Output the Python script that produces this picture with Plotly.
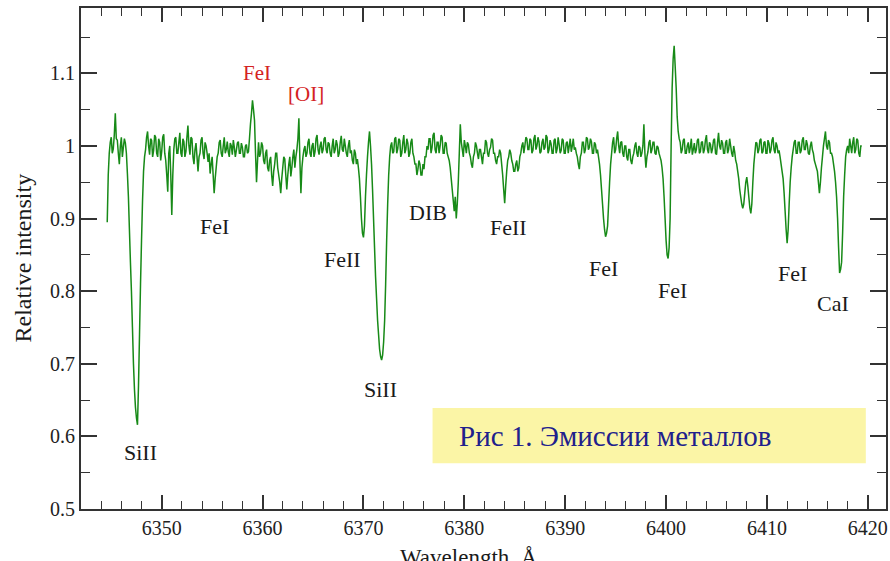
import numpy as np
import plotly.graph_objects as go

# ---- data ----
wl_start = 6344.6
wl_step = 0.1
intensity = [
    0.895, 0.96, 0.99, 1.005, 1.012, 0.99, 0.996, 1.015, 1.045, 1.01,
    1.008, 0.99, 0.975, 1.0, 1.012, 0.985, 0.998, 1.01, 1.004, 0.99,
    0.962, 0.93, 0.885, 0.84, 0.80, 0.75, 0.70, 0.665, 0.64, 0.625,
    0.616, 0.67, 0.74, 0.81, 0.87, 0.925, 0.965, 0.985, 0.995, 1.012,
    1.02, 1.0, 0.988, 1.01, 1.008, 0.985, 0.994, 1.015, 1.012, 0.99,
    0.985, 1.01, 1.005, 0.98, 0.992, 1.012, 1.016, 0.99, 0.98, 0.96,
    0.937, 0.99, 1.0, 0.96, 0.905, 0.96, 0.995, 1.01, 1.012, 0.99,
    0.99, 1.005, 1.018, 0.99, 0.985, 1.01, 1.006, 0.985, 0.992, 1.012,
    1.028, 1.0, 0.988, 1.012, 1.01, 0.985, 0.975, 0.995, 1.004, 0.985,
    0.965, 0.985, 0.99, 1.008, 1.012, 0.99, 0.982, 1.005, 1.0, 0.99,
    0.978, 0.99, 0.962, 0.975, 0.985, 0.96, 0.935, 0.955, 0.97, 0.985,
    0.99, 1.005, 1.008, 0.99, 0.985, 1.0, 1.012, 0.99, 0.995, 1.006,
    0.992, 0.985, 1.004, 1.0, 0.988, 1.008, 0.998, 0.985, 0.994, 1.004,
    1.006, 0.99, 0.99, 1.004, 0.998, 0.985, 0.985, 1.0, 1.002, 0.99,
    0.992, 1.01, 1.03, 1.045, 1.063, 1.05, 1.035, 0.99, 0.95, 0.98,
    1.005, 0.985, 0.99, 1.005, 1.0, 0.98, 0.975, 0.99, 0.995, 0.97,
    0.965, 0.98, 0.985, 0.96, 0.945, 0.965, 0.975, 0.99, 0.99, 0.97,
    0.96, 0.95, 0.935, 0.955, 0.97, 0.985, 0.982, 0.96, 0.94, 0.96,
    0.975, 0.985, 0.958, 0.97, 0.985, 0.995, 0.97, 0.985, 0.995, 1.01,
    1.038, 0.98, 0.935, 0.97, 0.985, 0.995, 1.0, 0.985, 0.99, 1.005,
    1.01, 0.99, 0.985, 1.0, 1.004, 0.985, 0.992, 1.01, 1.015, 0.995,
    0.988, 1.0, 1.006, 0.99, 0.995, 1.01, 1.012, 0.995, 0.99, 1.005,
    1.003, 0.99, 0.985, 1.0, 1.01, 0.99, 0.995, 1.008, 1.002, 0.985,
    0.99, 1.005, 1.014, 0.995, 0.992, 1.01, 1.0, 0.99, 0.985, 1.0,
    1.008, 0.99, 0.994, 0.98, 0.975, 0.995, 0.99, 0.975, 0.982, 0.97,
    0.955, 0.93, 0.90, 0.88, 0.874, 0.89, 0.93, 0.96, 0.985, 1.005,
    1.02, 1.0, 0.975, 0.94, 0.90, 0.86, 0.82, 0.79, 0.76, 0.74,
    0.72, 0.71, 0.705, 0.712, 0.73, 0.76, 0.81, 0.87, 0.92, 0.96,
    0.985, 1.0, 1.005, 0.99, 0.992, 1.01, 1.012, 0.99, 0.996, 1.01,
    1.008, 0.985, 0.99, 1.005, 1.015, 0.99, 0.995, 1.01, 1.004, 0.985,
    0.99, 1.005, 1.01, 0.99, 0.985, 0.975, 0.975, 0.96, 0.968, 0.98,
    0.975, 0.96, 0.96, 0.975, 0.968, 0.985, 0.985, 1.0, 0.995, 1.01,
    1.01, 0.99, 0.998, 1.015, 1.018, 0.995, 0.99, 1.005, 1.005, 0.99,
    1.0, 1.015, 1.012, 0.99, 0.99, 1.005, 1.004, 0.99, 0.985, 0.98,
    0.97, 0.955, 0.94, 0.925, 0.91, 0.93, 0.90, 0.92, 0.95, 0.99,
    1.03, 1.005, 0.995, 0.985, 1.008, 1.0, 0.99, 1.005, 1.002, 0.99,
    0.985, 0.975, 0.97, 0.985, 0.99, 1.005, 1.0, 0.99, 0.982, 0.995,
    0.995, 0.985, 0.975, 0.99, 0.99, 1.008, 1.005, 0.99, 0.985, 0.995,
    0.998, 1.01, 1.008, 0.99, 0.99, 0.98, 0.975, 0.985, 0.985, 0.995,
    0.99, 0.975, 0.96, 0.94, 0.921, 0.945, 0.965, 0.98, 0.985, 0.995,
    0.99, 0.98, 0.975, 0.965, 0.965, 0.975, 0.98, 0.965, 0.97, 0.985,
    0.99, 1.0, 1.005, 0.99, 1.0, 1.012, 1.01, 0.995, 0.995, 1.01,
    1.008, 0.99, 0.994, 1.01, 1.015, 0.995, 1.0, 1.012, 1.006, 0.99,
    0.992, 1.005, 1.01, 0.995, 0.998, 1.015, 1.012, 0.99, 0.995, 1.008,
    1.003, 0.99, 0.99, 1.008, 1.01, 0.99, 0.996, 1.012, 1.002, 0.99,
    0.994, 1.01, 1.008, 0.99, 0.99, 1.004, 1.006, 0.99, 1.0, 1.01,
    0.992, 1.0, 1.01, 0.995, 0.998, 0.99, 0.985, 0.975, 0.968, 0.985,
    0.99, 1.005, 1.005, 0.99, 0.995, 1.012, 1.01, 0.995, 0.998, 1.01,
    1.006, 0.99, 0.99, 1.005, 1.002, 0.99, 0.995, 0.985, 0.975, 0.96,
    0.94, 0.92, 0.90, 0.885, 0.875, 0.88, 0.89, 0.92, 0.95, 0.975,
    0.99, 1.005, 1.012, 0.99, 0.995, 1.01, 1.02, 1.0, 0.99, 1.005,
    1.006, 0.99, 0.985, 1.0, 1.0, 0.985, 0.98, 0.995, 0.995, 0.98,
    0.975, 0.985, 0.99, 1.0, 1.005, 0.99, 0.985, 1.0, 0.998, 0.985,
    0.99, 1.0, 1.03, 0.99, 0.97, 0.985, 0.992, 1.005, 1.008, 0.99,
    0.995, 1.005, 1.005, 0.99, 0.988, 1.0, 0.998, 0.99, 0.985, 0.98,
    0.97, 0.955, 0.93, 0.90, 0.87, 0.85, 0.845, 0.86, 0.90, 1.0,
    1.08, 1.12, 1.138, 1.11, 1.08, 1.04, 1.02, 1.01, 1.005, 0.99,
    0.995, 1.008, 1.01, 0.99, 0.99, 1.0, 1.005, 0.99, 0.998, 1.01,
    0.988, 0.995, 1.004, 0.99, 0.995, 1.008, 1.01, 0.99, 0.992, 1.005,
    1.006, 0.99, 0.995, 1.008, 1.015, 0.995, 0.99, 1.005, 1.002, 0.99,
    0.996, 1.008, 1.01, 0.99, 0.988, 1.005, 1.018, 1.0, 0.995, 1.008,
    1.004, 0.99, 0.99, 1.005, 1.008, 0.99, 0.995, 1.01, 1.0, 0.99,
    0.985, 1.0, 0.992, 0.98, 0.975, 0.965, 0.955, 0.94, 0.93, 0.92,
    0.914, 0.92, 0.935, 0.95, 0.957, 0.945, 0.93, 0.915, 0.907, 0.92,
    0.95, 0.975, 0.99, 1.005, 1.004, 0.99, 0.995, 1.008, 1.01, 0.99,
    0.992, 1.005, 1.006, 0.99, 0.99, 1.008, 1.004, 0.99, 0.995, 1.008,
    1.012, 0.995, 0.99, 1.005, 1.0, 0.99, 0.994, 0.985, 0.975, 0.965,
    0.955, 0.935, 0.91, 0.885, 0.866, 0.885, 0.92, 0.95, 0.97, 0.985,
    0.995, 1.005, 1.008, 0.99, 0.99, 1.005, 1.005, 0.99, 0.994, 1.008,
    1.012, 0.995, 0.995, 1.008, 1.002, 0.99, 0.988, 1.0, 1.006, 0.995,
    0.99, 0.98, 0.975, 0.97, 0.965, 0.95, 0.935, 0.95, 0.97, 0.985,
    1.0, 1.01, 1.02, 1.0, 0.995, 1.008, 1.005, 0.99, 0.99, 0.985,
    0.975, 0.965, 0.95, 0.93, 0.90, 0.86, 0.825, 0.83, 0.84, 0.88,
    0.93, 0.96, 0.985, 0.995, 1.0, 0.99, 1.01, 1.0, 0.99, 1.005,
    1.012, 0.99, 0.995, 1.01, 1.008, 0.99, 0.985, 1.0, 1.0,
]
wavelength = wl_start + wl_step * np.arange(len(intensity))

line_labels = ["SiII", "FeI", "FeII", "SiII", "DIB", "FeII", "FeI", "FeI", "FeI", "CaI"]
line_label_x = [6347.85, 6355.27, 6367.94, 6371.7, 6376.36, 6384.38, 6393.78, 6400.61, 6412.5, 6416.55]
line_label_y = [0.578, 0.889, 0.844, 0.665, 0.909, 0.888, 0.831, 0.801, 0.824, 0.783]

emission_labels = ["FeI", "[OI]"]
emission_label_x = [6359.4, 6364.3]
emission_label_y = [1.101, 1.071]

caption = "Рис 1. Эмиссии металлов"
x_title = "Wavelength, Å"
y_title = "Relative intensity"

SERIF = "'Liberation Serif', 'Times New Roman', serif"

fig = go.Figure()
fig.add_trace(go.Scatter(x=wavelength, y=intensity, mode="lines",
                         line=dict(color="#178a17", width=1.5, simplify=False),
                         hoverinfo="skip", showlegend=False))

annotations = []
for t, x, y in zip(line_labels, line_label_x, line_label_y):
    annotations.append(dict(x=x, y=y, xref="x", yref="y", text=t, showarrow=False,
                            font=dict(family=SERIF, size=22, color="#1a1a1a")))
for t, x, y in zip(emission_labels, emission_label_x, emission_label_y):
    annotations.append(dict(x=x, y=y, xref="x", yref="y", text=t, showarrow=False,
                            font=dict(family=SERIF, size=21, color="#d42222")))
# caption box text
annotations.append(dict(x=6379.3, y=0.601, xref="x", yref="y", text=caption, showarrow=False,
                        xanchor="left", yanchor="middle",
                        font=dict(family=SERIF, size=29, color="#20208c")))
# axis titles
annotations.append(dict(x=0, y=0.5, xref="paper", yref="paper", text=y_title, showarrow=False,
                        textangle=-90, xanchor="center", yanchor="middle", xshift=-59,
                        font=dict(family=SERIF, size=24, color="#1a1a1a")))
annotations.append(dict(x=6380.5, y=0, xref="x", yref="paper", text=x_title, showarrow=False,
                        xanchor="center", yanchor="top", yshift=-34,
                        font=dict(family=SERIF, size=23, color="#1a1a1a")))

fig.update_layout(
    width=890, height=561,
    margin=dict(l=81, r=2, t=8, b=52),
    paper_bgcolor="white", plot_bgcolor="white",
    annotations=annotations,
    shapes=[dict(type="rect", xref="x", yref="y", x0=6376.85, x1=6419.8, y0=0.563, y1=0.639,
                 fillcolor="#fbf5a6", line=dict(width=0), layer="below")],
)
axis_common = dict(showgrid=False, zeroline=False, showline=True, linecolor="#333333", linewidth=2,
                   mirror="ticks", ticks="inside", tickcolor="#333333", tickwidth=1.5,
                   tickfont=dict(family=SERIF, size=20, color="#222222"))
fig.update_xaxes(range=[6342, 6421.8], dtick=10, tick0=0, ticklen=14,
                 minor=dict(dtick=2, tick0=0, ticklen=8, ticks="inside", tickcolor="#333333", tickwidth=1.2),
                 **axis_common)
fig.update_yaxes(range=[0.5, 1.19], dtick=0.1, tick0=0, ticklen=16, tickformat="~g",
                 minor=dict(dtick=0.05, tick0=0, ticklen=9, ticks="inside", tickcolor="#333333", tickwidth=1.2),
                 **axis_common)

fig.write_html("out.html")
